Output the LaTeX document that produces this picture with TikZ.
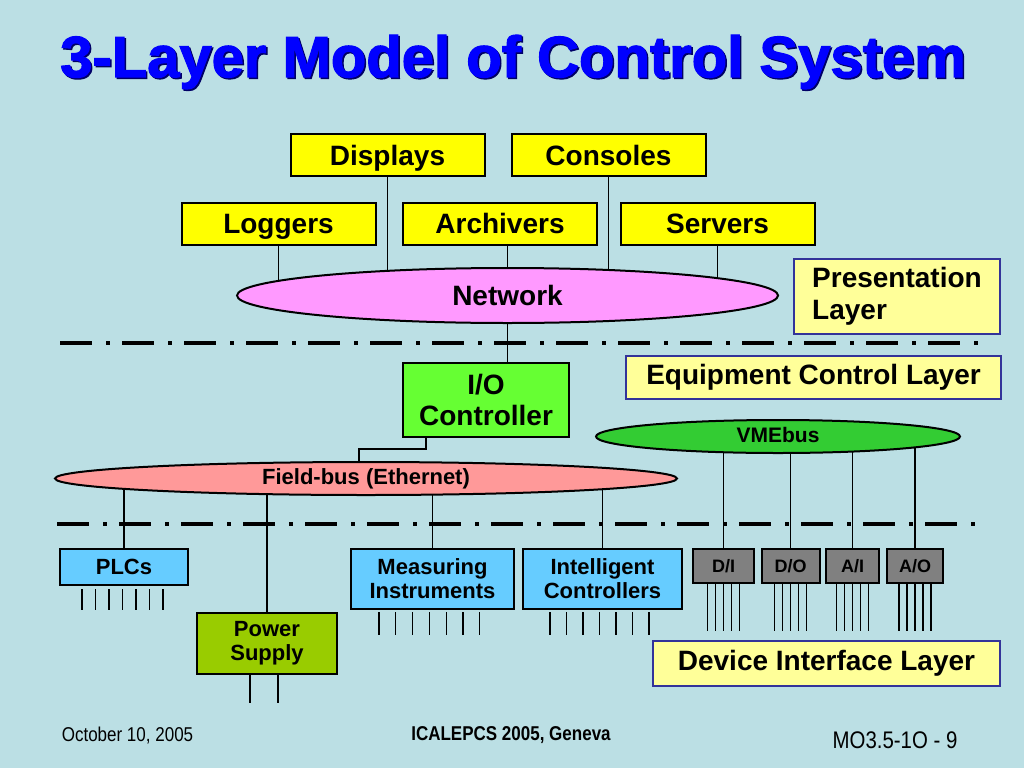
\documentclass[tikz,border=0pt]{standalone}
\usepackage{fontspec}
\setmainfont{Liberation Sans}
\newfontfamily\heavyfont[BoldFeatures={FakeBold=2}]{Liberation Sans}
\usepackage{xcolor}
\definecolor{slidebg}{HTML}{BBDFE4}
\definecolor{boxyellow}{HTML}{FFFF00}
\definecolor{layeryellow}{HTML}{FFFF99}
\definecolor{layerblue}{HTML}{333399}
\definecolor{netpink}{HTML}{FF99FF}
\definecolor{fbuspink}{HTML}{FF9999}
\definecolor{iogreen}{HTML}{66FF33}
\definecolor{vmegreen}{HTML}{33CC33}
\definecolor{devblue}{HTML}{66CCFF}
\definecolor{psugreen}{HTML}{99CC00}
\definecolor{modgray}{HTML}{808080}
\definecolor{titleblue}{HTML}{0000FF}
\definecolor{titleshade}{HTML}{000066}
\usepackage{tikz}
\usetikzlibrary{shapes.geometric, positioning}
\pgfdeclarelayer{bg}
\pgfdeclarelayer{wires}
\pgfsetlayers{bg,wires,main}
\newcommand{\titlefont}{\heavyfont\bfseries\fontsize{58}{60}\selectfont}
\newcommand{\boxfont}{\bfseries\fontsize{28}{32}\selectfont}
\newcommand{\devfont}{\bfseries\fontsize{22}{24}\selectfont}
\newcommand{\modfont}{\bfseries\fontsize{18}{20}\selectfont}
\newcommand{\busfont}{\bfseries\fontsize{21}{23}\selectfont}
\newcommand{\footfont}{\fontsize{20}{22}\selectfont}

\begin{document}
\begin{tikzpicture}[x=1pt, y=-1pt,
  wire/.style={line width=1.2pt},
  lead/.style={line width=1.2pt},
  ybox/.style={draw, line width=2pt, fill=boxyellow, minimum width=194pt,
    minimum height=42pt, inner sep=0pt, font=\boxfont,
    text height=23pt, text depth=3pt},
  layerbox/.style={draw=layerblue, line width=2.5pt, fill=layeryellow,
    inner sep=0pt, font=\boxfont, align=left},
  devbox/.style={draw, line width=2pt, fill=devblue, inner sep=0pt,
    font=\devfont, align=center},
  modbox/.style={draw, line width=2pt, fill=modgray, inner sep=0pt,
    minimum height=34pt, font=\modfont},
  bus/.style={ellipse, draw, line width=2pt, inner sep=0pt},
  layerline/.style={line width=4pt, dash pattern=on 32pt off 14pt on 4pt off 12pt}]

  % slide background
  \begin{pgfonlayer}{bg}
    \fill[slidebg] (0,0) rectangle (1024,768);
  \end{pgfonlayer}
  \useasboundingbox (0,0) rectangle (1024,768);

  % title
  \node[text=titleshade, font=\titlefont] (titleshadow) at (514.5,63.5) {3-Layer Model of Control System};
  \node[text=titleblue, font=\titlefont] (title) at (513,62) {3-Layer Model of Control System};

  % presentation layer
  \node[ybox] (disp) at (387.5,155) {Displays};
  \node[ybox] (cons) at (608.5,155) {Consoles};
  \node[ybox] (logg) at (278.5,223.5) {Loggers};
  \node[ybox] (arch) at (500,223.5) {Archivers};
  \node[ybox] (serv) at (717.5,223.5) {Servers};
  \node[bus, fill=netpink, minimum width=541pt, minimum height=55pt,
        font=\boxfont] (net) at (507.5,295.5) {Network};
  \node[layerbox, minimum width=206pt, minimum height=75pt] (presl) at (897,296.5)
        {Presentation\\Layer};

  % equipment control layer
  \node[draw, line width=2pt, fill=iogreen, minimum width=166pt, minimum height=74pt,
        inner sep=0pt, font=\bfseries\fontsize{28}{31}\selectfont, align=center]
        (io) at (486,400) {I/O\\Controller};
  \node[layerbox, minimum width=375pt, minimum height=43pt] (eqcl) at (813.5,377.5)
        {Equipment Control Layer};
  \node[bus, fill=vmegreen, minimum width=364pt, minimum height=33pt,
        font=\busfont, text height=15pt, text depth=3pt] (vme) at (778,436.5) {VMEbus};
  \node[bus, fill=fbuspink, minimum width=622pt, minimum height=33pt,
        font=\busfont\fontsize{22}{24}\selectfont, text height=15pt, text depth=3pt]
        (fbus) at (366,478.5) {Field-bus (Ethernet)};

  % device interface layer
  \node[devbox, minimum width=128pt, minimum height=36pt] (plc) at (124,567) {PLCs};
  \node[devbox, fill=psugreen, minimum width=140pt, minimum height=61pt] (psu)
        at (267,643.5) {Power\\Supply};
  \node[devbox, minimum width=163pt, minimum height=60pt] (meas) at (432.5,579)
        {Measuring\\Instruments};
  \node[devbox, minimum width=159pt, minimum height=60pt] (intel) at (602.5,579)
        {Intelligent\\Controllers};
  \node[modbox, minimum width=61pt] (din) at (723.5,566) {D/I};
  \node[modbox, minimum width=58pt] (dout) at (790.5,566) {D/O};
  \node[modbox, minimum width=53pt] (ain) at (852.5,566) {A/I};
  \node[modbox, minimum width=56pt] (aout) at (915,566) {A/O};
  \node[layerbox, minimum width=347pt, minimum height=45pt] (devl) at (826.5,663.5)
        {Device Interface Layer};

  % footer
  \node[font=\footfont] (date) at (127.5,736) {\scalebox{0.85}[1]{October 10, 2005}};
  \node[font=\footfont\bfseries] (conf) at (511,735) {\scalebox{0.85}[1]{ICALEPCS 2005, Geneva}};
  \node[font=\fontsize{24}{26}\selectfont] (page) at (895,740) {\scalebox{0.85}[1]{MO3.5-1O - 9}};

  \begin{pgfonlayer}{wires}
    % layer separators
    \draw[layerline] (60,343) -- (980,343);
    \draw[layerline] (57,524) -- (975,524);
    % network taps
    \foreach \n in {logg, disp, cons, serv}
      \draw[wire] (\n.south) -- (\n.south |- net.center);
    \draw[wire] (net.center |- arch.south) -- (net.center);
    \draw[wire] (net.center) -- (net.center |- io.north);
    \draw[wire] ([xshift=24pt]io.south west) -- ++(0,11) -| ([xshift=-7pt]fbus.center);
    % field-bus and VMEbus drops
    \foreach \n in {plc, psu, meas, intel}
      \draw[wire] (\n.north) -- (\n.north |- fbus.center);
    \foreach \n in {din, dout, ain, aout}
      \draw[wire] (\n.north) -- (\n.north |- vme.center);
  \end{pgfonlayer}

  % signal leads
  \foreach \i in {0,...,6} {
    \draw[lead] ([xshift={23pt+13.5pt*\i}]plc.south west) ++(0,3) -- ++(0,21);
    \draw[lead] ([xshift={29pt+16.8pt*\i}]meas.south west) ++(0,2) -- ++(0,23);
    \draw[lead] ([xshift={28pt+16.5pt*\i}]intel.south west) ++(0,2) -- ++(0,23);
  }
  \foreach \dx in {54, 82}
    \draw[lead] ([xshift=\dx pt]psu.south west) -- ++(0,28);
  \foreach \n in {din, dout, ain, aout}
    \foreach \dx in {-16, -8, 0, 8, 16}
      \draw[lead] ([xshift=\dx pt]\n.south) -- ++(0,47);
\end{tikzpicture}
\end{document}
